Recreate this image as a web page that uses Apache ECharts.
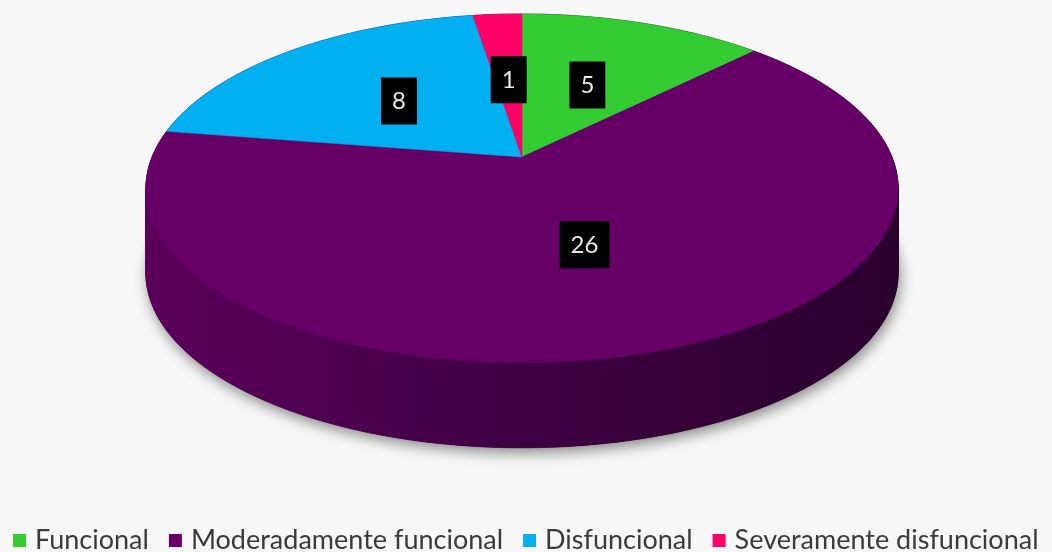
<!DOCTYPE html>
<html>
<head>
<meta charset="utf-8">
<style>
  html, body { margin: 0; padding: 0; background: #f7f7f7; }
  #container { width: 1052px; height: 552px; }
</style>
<script src="https://cdn.jsdelivr.net/npm/echarts@6/dist/echarts.min.js"></script>
</head>
<body>
<div id="container"></div>
<script>
var dom = document.getElementById('container');
var myChart = echarts.init(dom, null, { renderer: 'canvas' });

const categories = ['Funcional', 'Moderadamente funcional', 'Disfuncional', 'Severamente disfuncional'];
const values = [5, 26, 8, 1];
const colors = ['#33cc33', '#660066', '#00b0f0', '#ff0066'];

const total = values.reduce((a, b) => a + b, 0);

// pseudo 3d: perspective disc, viewed from above
const CX = 522, CY = 157, A = 370, B = 168.8, K = 0.18, T = 85;

function proj(theta, r) {
  var u = Math.sin(theta) * r, v = -Math.cos(theta) * r;
  var s = 1 / (1 - K * v);
  return [CX + A * u * s, CY + B * v * s];
}

var sideFill = {
  type: 'linear', global: true, x: 147, y: 0, x2: 900, y2: 0,
  colorStops: [
    { offset: 0, color: '#5c005c' },
    { offset: 0.35, color: '#47004b' },
    { offset: 0.65, color: '#38003b' },
    { offset: 1, color: '#29002c' }
  ]
};

function renderSlice(params, api) {
  var start = api.value(0), val = api.value(1), idx = api.value(2);
  var a0 = start / total * Math.PI * 2;
  var a1 = (start + val) / total * Math.PI * 2;
  var steps = Math.max(2, Math.ceil((a1 - a0) / (Math.PI / 180)));
  var arc = [];
  for (var i = 0; i <= steps; i++) {
    arc.push(proj(a0 + (a1 - a0) * i / steps, 1));
  }
  var children = [];
  // outer wall, drawn under all tops
  for (var j = 0; j < steps; j++) {
    var p = arc[j], q = arc[j + 1];
    children.push({
      type: 'polygon', z2: 1, silent: true,
      shape: { points: [p, q, [q[0], q[1] + T], [p[0], p[1] + T]] },
      style: { fill: sideFill, stroke: sideFill, lineWidth: 0.6 }
    });
  }
  // top face
  children.push({
    type: 'polygon', z2: 5,
    shape: { points: [[CX, CY]].concat(arc) },
    style: { fill: colors[idx], stroke: colors[idx], lineWidth: 0.5 }
  });
  var m = proj((a0 + a1) / 2, 0.5);
  children.push({
    type: 'text', z2: 10, silent: true,
    style: {
      text: String(val), x: m[0], y: m[1],
      align: 'center', verticalAlign: 'middle',
      fill: '#e8e8e8', fontSize: 24, fontFamily: 'Lato',
      backgroundColor: '#000', padding: [12, 11, 11, 11]
    }
  });
  return { type: 'group', children: children };
}

function renderBase(params, api) {
  var pts = [];
  for (var i = 0; i <= 360; i += 2) {
    var p = proj(i / 180 * Math.PI, 1);
    pts.push([p[0], p[1] + T]);
  }
  return {
    type: 'polygon', z2: 0, silent: true,
    shape: { points: pts },
    style: {
      fill: '#3a003c', shadowBlur: 14, shadowOffsetY: 5, shadowOffsetX: 2,
      shadowColor: 'rgba(0,0,0,0.45)'
    }
  };
}

var series = categories.map(function (name, i) {
  var before = 0;
  for (var k = 0; k < i; k++) before += values[k];
  return {
    type: 'custom', name: name, coordinateSystem: 'none',
    itemStyle: { color: colors[i] },
    renderItem: renderSlice,
    data: [[before, values[i], i]]
  };
});
series.push({
  type: 'custom', name: 'base', coordinateSystem: 'none',
  renderItem: renderBase, data: [[0]]
});

var option = {
  backgroundColor: '#f7f7f7',
  animation: false,
  legend: {
    data: categories,
    left: 8, top: 522,
    icon: 'rect', itemWidth: 13, itemHeight: 13, itemGap: 20,
    textStyle: { color: '#3a3a3a', fontSize: 27, fontFamily: 'Lato', padding: [0, 0, 0, 4] }
  },
  series: series
};

myChart.setOption(option);
window.addEventListener('resize', myChart.resize);
</script>
</body>
</html>
